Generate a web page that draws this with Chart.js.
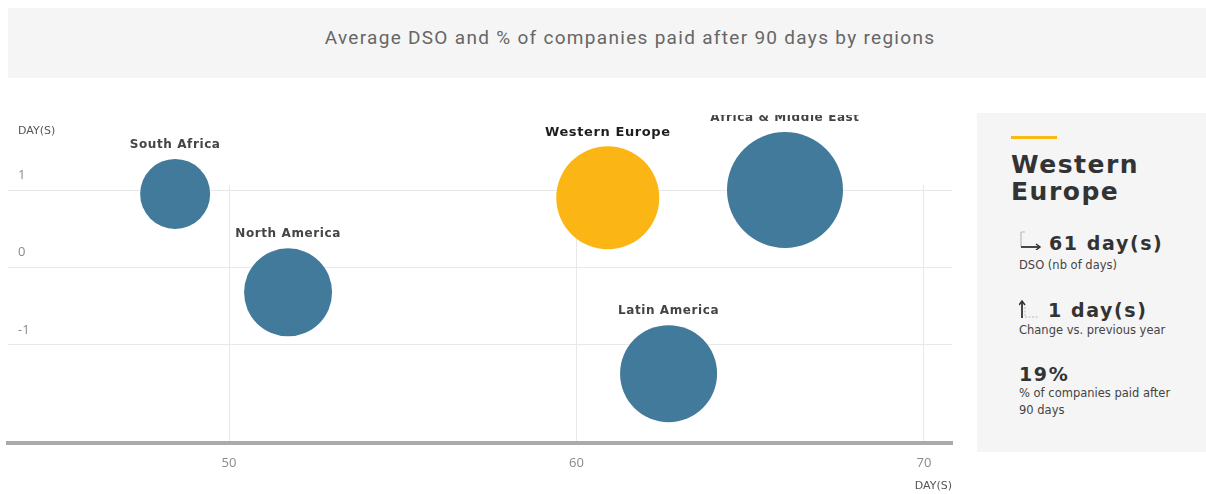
<!DOCTYPE html>
<html>
<head>
<meta charset="utf-8">
<script src="https://cdn.jsdelivr.net/npm/chart.js@4.4.1/dist/chart.umd.min.js"></script>
<style>
  html, body { margin:0; padding:0; background:#fff; }
  body { width:1206px; height:494px; position:relative; overflow:hidden; font-family:"DejaVu Sans", sans-serif; }
  #titlebar { position:absolute; left:8px; top:8px; width:1198px; height:70px; background:#f5f5f5; }
  #titlebar span { position:absolute; left:0; right:0; top:19px; text-align:center; padding-left:46px; font-family:Roboto, sans-serif; font-size:19px; letter-spacing:1.3px; color:#666; line-height:22px; }
  #chartWrap { position:absolute; left:0; top:115px; width:960px; height:379px; }
  #panel { position:absolute; left:977px; top:113px; width:229px; height:339px; background:#f5f5f5; color:#333; }
  #panel .bar { position:absolute; left:34px; top:23px; width:46px; height:3px; background:#f9b912; }
  #panel .head { position:absolute; left:34px; top:38px; font-weight:bold; font-size:25px; letter-spacing:1.5px; line-height:27px; color:#333; }
  #panel .big { position:absolute; left:72px; font-weight:bold; font-size:19px; letter-spacing:1.6px; line-height:22px; color:#333; }
  #panel .small { position:absolute; left:42px; font-size:11.5px; line-height:17px; color:#444; width:185px; }
  #panel svg { position:absolute; left:42px; }
</style>
</head>
<body>
<div id="titlebar"><span>Average DSO and % of companies paid after 90 days by regions</span></div>
<div id="chartWrap"><canvas id="c"></canvas></div>
<div id="panel">
  <div class="bar"></div>
  <div class="head">Western<br>Europe</div>
  <svg width="26" height="20" style="top:117px" viewBox="0 0 26 20">
    <path d="M2 2 V17" stroke="#bbb" stroke-width="1.2" fill="none"/>
    <path d="M2 17 H20" stroke="#333" stroke-width="1.8" fill="none"/>
    <path d="M17 14 L21 17 L17 20" stroke="#333" stroke-width="1.5" fill="none"/>
    <path d="M2 2 H6" stroke="#bbb" stroke-width="1" fill="none"/>
  </svg>
  <div class="big" style="left:72px;top:119px">61 day(s)</div>
  <div class="small" style="top:144px">DSO (nb of days)</div>
  <svg width="26" height="20" style="top:186px" viewBox="0 0 26 20">
    <path d="M3 19 V3" stroke="#333" stroke-width="1.8" fill="none"/>
    <path d="M0 6 L3 2 L6 6" stroke="#333" stroke-width="1.5" fill="none"/>
    <path d="M6 18 H20 M6 8 V18" stroke="#bbb" stroke-width="1" stroke-dasharray="2 1.5" fill="none"/>
  </svg>
  <div class="big" style="left:71px;top:186px">1 day(s)</div>
  <div class="small" style="top:209px">Change vs. previous year</div>
  <div class="big" style="left:42px;top:250px">19%</div>
  <div class="small" style="top:272px">% of companies paid after<br>90 days</div>
</div>
<script>
const regions = ['South Africa', 'North America', 'Western Europe', 'Latin America', 'Africa & Middle East'];
const dsoDays = [48.45, 51.7, 60.9, 62.65, 66.0];
const changeDays = [0.95, -0.32, 0.9, -1.37, 1.0];
const bubbleRadius = [35, 44, 51.5, 48.5, 58];
const highlighted = 'Western Europe';
const xTickValues = [50, 60, 70];
const yTickValues = [-1, 0, 1];

const BLUE = '#417a9b';
const YELLOW = '#fbb616';

const points = regions.map((name, i) => ({ x: dsoDays[i], y: changeDays[i], r: bubbleRadius[i] }));

const labelPlugin = {
  id: 'bubbleLabels',
  afterDatasetsDraw(chart) {
    const ctx = chart.ctx;
    const meta = chart.getDatasetMeta(0);
    ctx.save();
    ctx.textAlign = 'center';
    ctx.textBaseline = 'middle';
    meta.data.forEach((el, i) => {
      const isHi = regions[i] === highlighted;
      ctx.font = 'bold ' + (isHi ? 13 : 12) + 'px "DejaVu Sans"';
      ctx.letterSpacing = '0.6px';
      ctx.fillStyle = isHi ? '#1e1e1e' : '#444';
      ctx.fillText(regions[i], el.x, el.y - bubbleRadius[i] - 14);
    });
    ctx.letterSpacing = '0px';
    ctx.textAlign = 'left';
    ctx.font = '11px "DejaVu Sans"';
    ctx.fillStyle = '#555';
    ctx.fillText('DAY(S)', 18, 16);
    ctx.restore();
  }
};

new Chart(document.getElementById('c'), {
  type: 'bubble',
  data: {
    datasets: [{
      data: points,
      backgroundColor: regions.map(n => n === highlighted ? YELLOW : BLUE),
      borderWidth: 0,
      hoverBorderWidth: 0,
      clip: false
    }]
  },
  options: {
    responsive: true,
    maintainAspectRatio: false,
    animation: false,
    events: [],
    layout: { autoPadding: false, padding: { top: 70, left: 8, right: 8, bottom: 0 } },
    plugins: { legend: { display: false }, tooltip: { enabled: false } },
    scales: {
      x: {
        type: 'linear',
        min: 43.64,
        max: 70.806,
        afterBuildTicks: (axis) => { axis.ticks = xTickValues.map(v => ({ value: v })); },
        afterFit: (axis) => { axis.height = 51; },
        grid: { color: '#e8e8e8', lineWidth: 1, drawTicks: false },
        border: { display: true, color: '#aaaaaa', width: 4 },
        ticks: { padding: 12, color: '#8a8a8a', font: { family: '"Open Sans"', size: 13 } },
        title: { display: true, text: 'DAY(S)', align: 'end', color: '#555', font: { family: '"DejaVu Sans"', size: 11 }, padding: { top: 0, bottom: 1 } }
      },
      y: {
        type: 'linear',
        min: -2.265,
        max: 1.065,
        afterBuildTicks: (axis) => { axis.ticks = yTickValues.map(v => ({ value: v })); },
        afterFit: (axis) => { axis.width = 0; },
        grid: { color: '#e8e8e8', lineWidth: 1, drawTicks: false },
        border: { display: false },
        ticks: { mirror: true, padding: 10, labelOffset: -15, color: '#8a8a8a', font: { family: '"Open Sans"', size: 13 } }
      }
    }
  },
  plugins: [labelPlugin]
});
</script>
</body>
</html>
